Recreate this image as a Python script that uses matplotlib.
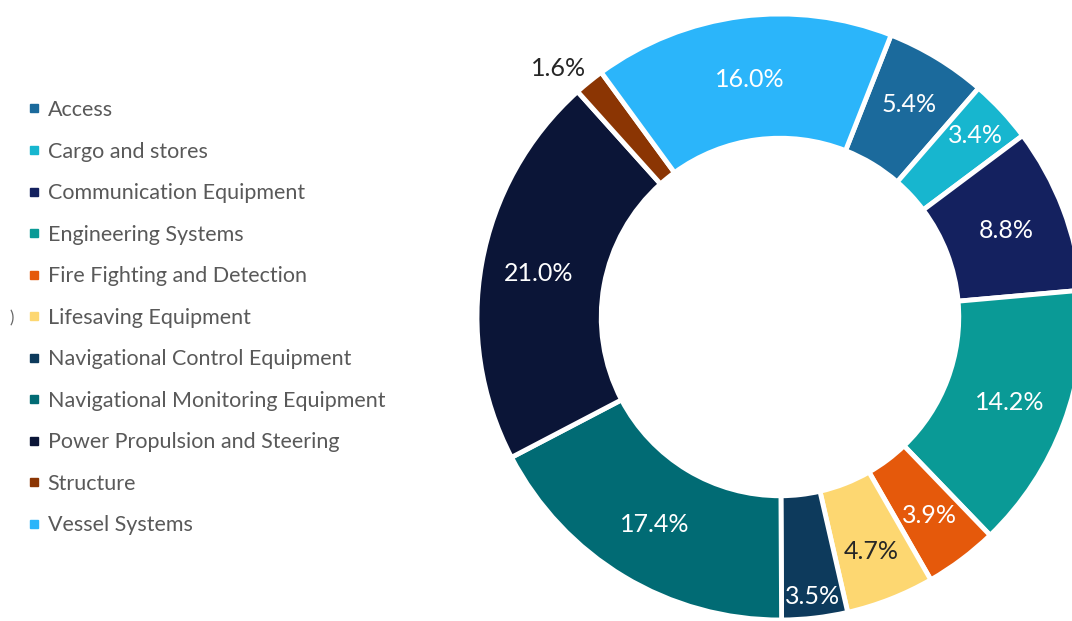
import matplotlib.pyplot as plt
import numpy as np
from matplotlib.lines import Line2D

plt.rcParams['font.family'] = ['Lato', 'DejaVu Sans']

categories = ["Access", "Cargo and stores", "Communication Equipment", "Engineering Systems",
              "Fire Fighting and Detection", "Lifesaving Equipment", "Navigational Control Equipment",
              "Navigational Monitoring Equipment", "Power Propulsion and Steering", "Structure",
              "Vessel Systems"]
shares = [5.4, 3.4, 8.8, 14.2, 3.9, 4.7, 3.5, 17.4, 21.0, 1.6, 16.0]
colors = ["#1b6a9c", "#17b6cf", "#14215f", "#0a9a96", "#e5590b", "#fdd771", "#0d3a5c",
          "#016b74", "#0b1537", "#8b3503", "#2bb5fa"]

# label colour, radial placement and angular nudge (deg) for each slice
label_colors = ["white", "white", "white", "white", "white", "#262626", "white",
                "white", "white", "#262626", "white"]
label_r = [0.82, 0.88, 0.80, 0.81, 0.82, 0.83, 0.93, 0.80, 0.81, 1.10, 0.79]
label_dtheta = [0, 0, 0, 0, 0, 0, 0, 0, 0, 2.7, 0]

W, H = 1072, 621
fig = plt.figure(figsize=(W / 100, H / 100), dpi=100)
cx, cy, R = 780, 317, 303
ax = fig.add_axes([(cx - R) / W, (H - cy - R) / H, 2 * R / W, 2 * R / H])

start = 68.5
wedges, _ = ax.pie(shares, colors=colors, startangle=start, counterclock=False, radius=1.0,
                   wedgeprops=dict(width=0.41, edgecolor='white', linewidth=3.5))
ax.set_xlim(-1, 1)
ax.set_ylim(-1, 1)
ax.set_aspect('equal')
ax.axis('off')
for w in wedges:
    w.set_clip_on(False)

for w, val, col, r, dt in zip(wedges, shares, label_colors, label_r, label_dtheta):
    ang = np.deg2rad((w.theta1 + w.theta2) / 2 + dt)
    ax.text(r * np.cos(ang), r * np.sin(ang), f"{val:.1f}%", ha='center', va='center',
            color=col, fontsize=18, clip_on=False)

handles = [Line2D([], [], marker='s', ls='', color=c, markersize=5.8) for c in colors]
fig.legend(handles, categories, loc='upper left', bbox_to_anchor=(29 / W, 1 - 100 / H),
           frameon=False, fontsize=15.5, labelcolor='#595959', handlelength=0.45,
           handletextpad=0.42, labelspacing=1.0, borderaxespad=0, borderpad=0)

fig.text(12 / W, 1 - 318 / H, ")", color='#666666', fontsize=12, ha='center', va='center')

fig.savefig("out.png", dpi=100)
